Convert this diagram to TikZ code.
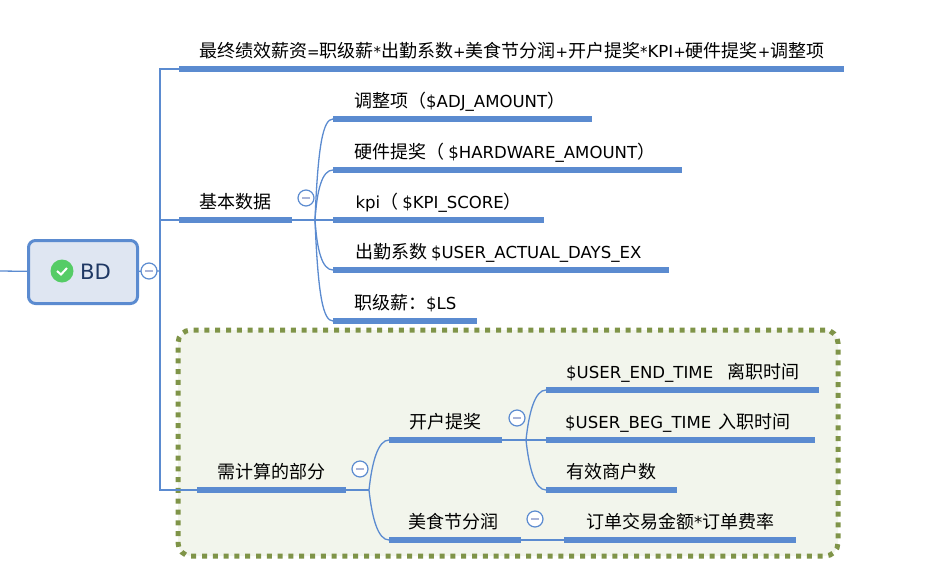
\documentclass[tikz,border=0pt]{standalone}
\usepackage{fontspec}
\setmainfont{Noto Sans CJK SC}
\newfontfamily\latfont[Scale=0.92]{DejaVu Sans}
\newfontfamily\symfont[Scale=0.83]{DejaVu Sans}
\newcommand{\la}[1]{{\latfont #1}}
\newcommand{\sy}[1]{{\symfont #1}}
\usetikzlibrary{positioning, shapes.geometric}
\definecolor{linkblue}{HTML}{5B8BD0}
\definecolor{rootfill}{HTML}{DFE6F2}
\definecolor{rootink}{HTML}{1F3864}
\definecolor{panelfill}{HTML}{F2F5EC}
\definecolor{panelline}{HTML}{7F9448}
\definecolor{okgreen}{HTML}{55CC66}
\definecolor{minusink}{HTML}{A9B4D8}
\tikzset{
  topic/.style={anchor=south west, minimum width=#1, inner xsep=0pt, inner ysep=5pt,
    text height=14pt, text depth=6pt, font=\fontsize{18}{20}\selectfont,
    append after command={(\tikzlastnode.south west) edge[barline] (\tikzlastnode.south east)}},
  barline/.style={line width=5.4pt, draw=linkblue},
  link/.style={draw=linkblue, line width=1.3pt},
  fold/.style={circle, draw=linkblue, line width=1.2pt, fill=white, minimum size=16pt, inner sep=0pt,
    path picture={\draw[minusink, line width=1.6pt] ([xshift=-4pt]path picture bounding box.center) -- ([xshift=4pt]path picture bounding box.center);}},
  rootbox/.style={draw=linkblue, line width=3pt, fill=rootfill, rounded corners=7pt, minimum width=109pt,
    minimum height=63pt, inner sep=0pt, text=rootink, font=\fontsize{23}{25}\selectfont},
  okmark/.style={circle, fill=okgreen, minimum size=23pt, inner sep=0pt,
    path picture={\draw[white, line width=2pt] ([xshift=-5pt]path picture bounding box.center) -- ([xshift=-1pt,yshift=-3.5pt]path picture bounding box.center) -- ([xshift=5pt,yshift=3pt]path picture bounding box.center);}},
  panel/.style={draw=panelline, fill=panelfill, line width=5pt, rounded corners=13pt, dash pattern=on 5pt off 5.8pt}
}
\begin{document}
\begin{tikzpicture}[x=1pt, y=-1pt]
\useasboundingbox (0,0) rectangle (942,576);
% Group behind the computed part
\node (calcPanel) [panel, minimum width=660pt, minimum height=226pt, inner sep=0pt] at (508,443) {};

% Root
\coordinate (rootIn) at (0,271);
\coordinate (trunk) at (160,271);
\node (root) [rootbox] at (83,272) {\hspace{25pt}\raisebox{-1pt}{\la{BD}}};
\node (rootIcon) [okmark] at (62,271) {};

% Topics
\node (formula) [topic=665pt] at (179,69) {最终绩效薪资\sy{=}职级薪\sy{*}出勤系数\sy{+}美食节分润\sy{+}开户提奖\sy{*}\la{KPI}\sy{+}硬件提奖\sy{+}调整项};
\node (data) [topic=113pt] at (179,220) {基本数据};
\node (calc) [topic=149pt] at (197,490) {需计算的部分};

% Basic data
\node (adj) [topic=259pt] at (333,119) {调整项（\la{\$ADJ\_AMOUNT}）\kern6pt};
\node (hardware) [topic=349pt] at (333,170) {硬件提奖（ \la{\$HARDWARE\_AMOUNT}）\kern6pt};
\node (kpi) [topic=211pt] at (333,220) {\la{kpi}（ \la{\$KPI\_SCORE}）};
\node (days) [topic=336pt] at (333,270) {出勤系数 \la{\$USER\_ACTUAL\_DAYS\_EX}\kern6pt};
\node (level) [topic=144pt] at (333,321) {职级薪：\la{\$LS}};

% Computed part
\node (open) [topic=113pt] at (389,440) {开户提奖};
\node (food) [topic=132pt] at (389,540) {美食节分润\kern4pt};
\node (endTime) [topic=273pt] at (546,390) {\la{\$USER\_END\_TIME}\hspace{14pt}离职时间};
\node (begTime) [topic=269pt] at (546,440) {\la{\$USER\_BEG\_TIME}\hspace{7pt}入职时间\kern6pt};
\node (shops) [topic=131pt] at (546,490) {有效商户数};
\node (order) [topic=232pt] at (564,540) {订单交易金额\la{*}订单费率};

% Hubs
\coordinate (dataHub) at (315,220);
\coordinate (calcHub) at (369,490);
\coordinate (openHub) at (526,440);

% Links
\draw[link] (rootIn) -- (root);
\draw[link] (root) -- (trunk);
\draw[link] (formula.south west) -- (160,69) -- (trunk);
\draw[link] (trunk) -- (160,490) -- (calc.south west);
\draw[link] (160,220) -- (data.south west);
\draw[link] (data.south east) -- (dataHub);
\draw[link] (dataHub) .. controls +(3,-75) and +(-10,0) .. (adj.south west);
\draw[link] (dataHub) .. controls +(2,-30) and +(-11,0) .. (hardware.south west);
\draw[link] (dataHub) -- (kpi.south west);
\draw[link] (dataHub) .. controls +(2,30) and +(-11,0) .. (days.south west);
\draw[link] (dataHub) .. controls +(3,75) and +(-10,0) .. (level.south west);
\draw[link] (calc.south east) -- (calcHub);
\draw[link] (calcHub) .. controls +(3,-28) and +(-11,0) .. (open.south west);
\draw[link] (calcHub) .. controls +(3,28) and +(-11,0) .. (food.south west);
\draw[link] (open.south east) -- (openHub);
\draw[link] (openHub) .. controls +(3,-28) and +(-11,0) .. (endTime.south west);
\draw[link] (openHub) -- (begTime.south west);
\draw[link] (openHub) .. controls +(3,28) and +(-11,0) .. (shops.south west);
\draw[link] (food.south east) -- (order.south west);

% Fold marks
\node (rootFold) [fold] at (149,271) {};
\node (dataFold) [fold] at (306,198) {};
\node (calcFold) [fold] at (360,469) {};
\node (openFold) [fold] at (517,418) {};
\node (foodFold) [fold] at (535,519) {};
\end{tikzpicture}
\end{document}
